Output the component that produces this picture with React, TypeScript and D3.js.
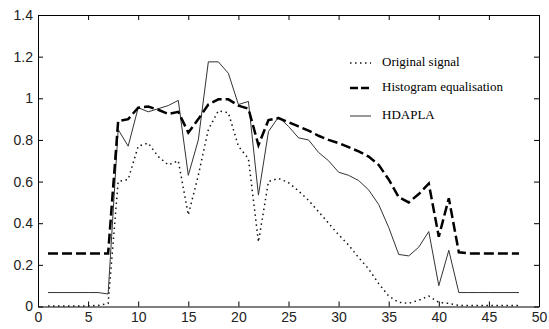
import { useEffect, useRef } from "react"
import * as d3 from "d3"

// sample index 1..48
const samples = [
  1, 2, 3, 4, 5, 6, 7, 8, 9, 10, 11, 12, 13, 14, 15, 16, 17, 18, 19, 20, 21, 22, 23, 24,
  25, 26, 27, 28, 29, 30, 31, 32, 33, 34, 35, 36, 37, 38, 39, 40, 41, 42, 43, 44, 45, 46, 47, 48,
]

const originalSignal = [
  0.003, 0.003, 0.003, 0.003, 0.003, 0.005, 0.015, 0.6, 0.61, 0.77, 0.785, 0.72, 0.68, 0.7, 0.44, 0.63,
  0.85, 0.94, 0.93, 0.77, 0.71, 0.31, 0.6, 0.615, 0.595, 0.555, 0.51, 0.455, 0.4, 0.345, 0.295, 0.235,
  0.18, 0.11, 0.05, 0.02, 0.015, 0.03, 0.05, 0.02, 0.015, 0.005, 0.005, 0.005, 0.005, 0.005, 0.005, 0.005,
]

const histEqualisation = [
  0.255, 0.255, 0.255, 0.255, 0.255, 0.255, 0.255, 0.89, 0.9, 0.955, 0.96, 0.945, 0.925, 0.935, 0.835, 0.9,
  0.97, 0.995, 0.995, 0.965, 0.95, 0.775, 0.895, 0.905, 0.885, 0.865, 0.845, 0.82, 0.8, 0.785, 0.765, 0.745,
  0.72, 0.68, 0.61, 0.525, 0.5, 0.54, 0.59, 0.335, 0.52, 0.26, 0.255, 0.255, 0.255, 0.255, 0.255, 0.255,
]

const hdapla = [
  0.067, 0.067, 0.067, 0.067, 0.067, 0.067, 0.06, 0.85, 0.77, 0.955, 0.935, 0.95, 0.965, 0.99, 0.63, 0.8,
  1.175, 1.175, 1.12, 0.97, 0.985, 0.535, 0.84, 0.91, 0.865, 0.81, 0.8, 0.74, 0.7, 0.645, 0.63, 0.605,
  0.56, 0.49, 0.38, 0.25, 0.243, 0.285, 0.36, 0.1, 0.27, 0.067, 0.067, 0.067, 0.067, 0.067, 0.067, 0.067,
]

const xTicks = [0, 5, 10, 15, 20, 25, 30, 35, 40, 45, 50]
const yTicks = [0, 0.2, 0.4, 0.6, 0.8, 1, 1.2, 1.4]

const legendLabels = ["Original signal", "Histogram equalisation", "HDAPLA"]

export default function App() {
  const svgRef = useRef<SVGSVGElement>(null)

  useEffect(() => {
    if (!svgRef.current) return
    const svg = d3.select(svgRef.current)
    svg.selectAll("*").remove()

    const width = 549
    const height = 329
    const left = 38
    const right = 539
    const top = 15
    const bottom = 306.5

    const x = d3.scaleLinear().domain([0, 50]).range([left, right])
    const y = d3.scaleLinear().domain([0, 1.4]).range([bottom, top])

    svg.append("rect").attr("width", width).attr("height", height).attr("fill", "#fff")

    const tickFont = "Arial, 'Liberation Sans', sans-serif"

    // axes, ticks pointing inward on all four sides
    const gx = svg
      .append("g")
      .attr("transform", `translate(0, ${bottom})`)
      .call(d3.axisBottom(x).tickValues(xTicks).tickSize(-5).tickSizeOuter(0).tickPadding(6).tickFormat(d3.format("d")))
    const gy = svg
      .append("g")
      .attr("transform", `translate(${left}, 0)`)
      .call(d3.axisLeft(y).tickValues(yTicks).tickSize(-5).tickSizeOuter(0).tickPadding(5).tickFormat((d) => String(+d)))
    const gt = svg
      .append("g")
      .attr("transform", `translate(0, ${top})`)
      .call(d3.axisTop(x).tickValues(xTicks).tickSize(-5).tickSizeOuter(0).tickFormat(() => ""))
    const gr = svg
      .append("g")
      .attr("transform", `translate(${right}, 0)`)
      .call(d3.axisRight(y).tickValues(yTicks).tickSize(-5).tickSizeOuter(0).tickFormat(() => ""))

    for (const g of [gx, gy, gt, gr]) {
      g.select(".domain").attr("stroke", "#000").attr("stroke-width", 1)
      g.selectAll(".tick line").attr("stroke", "#000")
      g.selectAll("text").attr("fill", "#222").attr("font-size", "14px").attr("font-family", tickFont)
    }

    const line = d3
      .line<number>()
      .x((_, i) => x(samples[i]))
      .y((d) => y(d))

    svg
      .append("path")
      .datum(originalSignal)
      .attr("d", line)
      .attr("fill", "none")
      .attr("stroke", "#111")
      .attr("stroke-width", 1.5)
      .attr("stroke-dasharray", "1.5,3.5")

    svg
      .append("path")
      .datum(hdapla)
      .attr("d", line)
      .attr("fill", "none")
      .attr("stroke", "#333")
      .attr("stroke-width", 1)

    svg
      .append("path")
      .datum(histEqualisation)
      .attr("d", line)
      .attr("fill", "none")
      .attr("stroke", "#000")
      .attr("stroke-width", 2.5)
      .attr("stroke-dasharray", "10,4")

    // legend
    const styles = [
      { stroke: "#111", width: 1.5, dash: "1.5,3.5" },
      { stroke: "#000", width: 2.5, dash: "8,3" },
      { stroke: "#333", width: 1, dash: "none" },
    ]
    const legendY = [63, 88, 116]
    const legend = svg.append("g")
    legendLabels.forEach((label, i) => {
      legend
        .append("line")
        .attr("x1", 350)
        .attr("x2", 371)
        .attr("y1", legendY[i])
        .attr("y2", legendY[i])
        .attr("stroke", styles[i].stroke)
        .attr("stroke-width", styles[i].width)
        .attr("stroke-dasharray", styles[i].dash)
      legend
        .append("text")
        .attr("x", 382)
        .attr("y", legendY[i])
        .attr("dominant-baseline", "middle")
        .attr("font-family", "'Times New Roman', 'Liberation Serif', serif")
        .attr("font-size", "13px")
        .attr("fill", "#000")
        .text(label)
    })
  }, [])

  return (
    <svg
      ref={svgRef}
      width={549}
      height={329}
      style={{ position: "absolute", left: 0, top: 0, display: "block" }}
    />
  )
}
